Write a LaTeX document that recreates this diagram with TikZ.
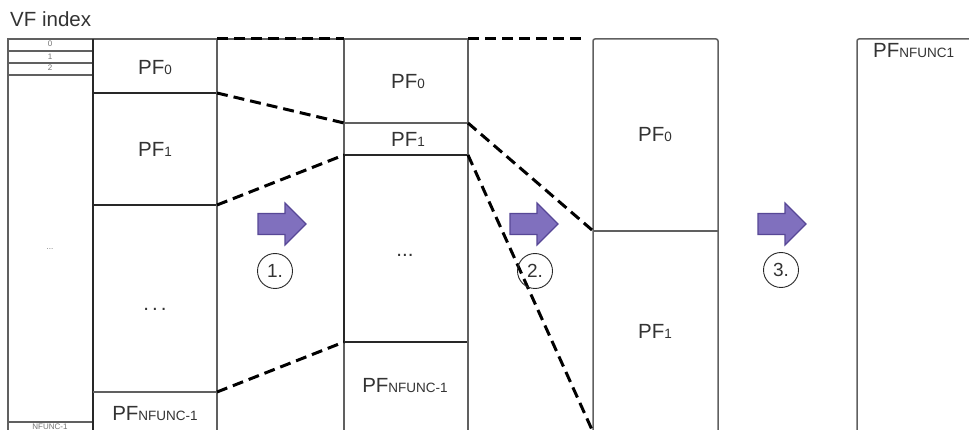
\documentclass[tikz,border=0pt]{standalone}
\usepackage{fontspec}
\setmainfont{Liberation Sans}
\definecolor{framegray}{HTML}{606060}
\definecolor{darkline}{HTML}{282828}
\definecolor{txt}{HTML}{333333}
\definecolor{arrowfill}{HTML}{8070BE}
\definecolor{arrowedge}{HTML}{574796}
\begin{document}
\begin{tikzpicture}[x=1pt,y=-1pt,
  frame/.style={draw=framegray, line width=1.5pt},
  darkframe/.style={draw=darkline, line width=1.8pt},
  link/.style={draw=black, line width=3pt, dash pattern=on 11pt off 6pt},
  lbl/.style={font=\fontsize{20.5}{20.5}\selectfont, text=txt, inner sep=0pt},
  tinylbl/.style={font=\fontsize{8}{8}\selectfont, text=black!55, inner sep=0pt},
  stepnum/.style={circle, draw=darkline, line width=0.9pt, minimum size=35pt, inner sep=0pt, font=\fontsize{19}{19}\selectfont, text=txt},
  purplearrow/.pic={\filldraw[fill=arrowfill, draw=arrowedge, line width=1.2pt]
     (-24,-10.5) -- (3,-10.5) -- (3,-21) -- (24,0) -- (3,21) -- (3,10.5) -- (-24,10.5) -- cycle;}
]
\useasboundingbox (0,0) rectangle (969,430);
\clip (0,0) rectangle (969,430);
\fill[white] (0,0) rectangle (969,430);
\newcommand{\subsz}{\fontsize{13.5}{13.5}\selectfont}

% title
\node[lbl, anchor=base west] (title) at (10,27) {VF index};

% VF index column
\draw[frame] (8,39) rectangle (93,440);
\draw[draw=framegray, line width=1.2pt] (8,51) -- (93,51) (8,63) -- (93,63) (8,75) -- (93,75) (8,422) -- (93,422);
\node[tinylbl] (vf0) at (50,44) {0};
\node[tinylbl] (vf1) at (50,57) {1};
\node[tinylbl] (vf2) at (50,68) {2};
\node[tinylbl] (vfdots) at (50,249) {...};
\node[tinylbl, anchor=north] (vfn) at (50,424) {NFUNC-1};

% column 2
\draw[frame] (93,39) rectangle (217,440);
\draw[darkframe] (93,39) -- (93,440);
\draw[darkframe] (93,93) -- (217,93) (93,205) -- (217,205);
\draw[frame] (93,392) -- (217,392);
\node[lbl] (c2pf0) at (155,68) {PF{\subsz 0}};
\node[lbl] (c2pf1) at (155,149) {PF{\subsz 1}};
\node[lbl, anchor=base] (c2dots) at (155,310) {.\kern3pt.\kern3pt.};
\node[lbl] (c2pfn) at (155,414) {PF{\subsz NFUNC-1}};

% column 3 frame
\draw[frame] (217,39) rectangle (344,440);

% column 4
\draw[frame] (344,39) rectangle (468,440);
\draw[frame] (344,123) -- (468,123);
\draw[darkframe] (468,155) -- (344,155) -- (344,342) -- (468,342);
\node[lbl] (c4pf0) at (408,82) {PF{\subsz 0}};
\node[lbl] (c4pf1) at (408,139) {PF{\subsz 1}};
\node[lbl, anchor=base] (c4dots) at (405,257) {...};
\node[lbl] (c4pfn) at (405,386) {PF{\subsz NFUNC-1}};

% column 5 frame
\draw[frame] (468,39) -- (468,440);

% column 6
\draw[frame, rounded corners=2pt] (593,440) -- (593,39) -- (718,39) -- (718,440);
\draw[frame] (593,231) -- (718,231);
\node[lbl] (c6pf0) at (655,135) {PF{\subsz 0}};
\node[lbl] (c6pf1) at (655,331) {PF{\subsz 1}};

% column 7
\draw[frame, rounded corners=2pt] (857,440) -- (857,39) -- (985,39);
\node[lbl, anchor=base west] (c7pfn) at (873,58) {PF{\subsz NFUNC1}};

% coordinates for links
\coordinate (t2) at (217,39); \coordinate (t3) at (344,39);
\coordinate (t4) at (468,39); \coordinate (t5) at (585,39);
\coordinate (a1) at (217,93);  \coordinate (b1) at (344,123);
\coordinate (a2) at (217,205); \coordinate (b2) at (344,155);
\coordinate (a3) at (217,392); \coordinate (b3) at (344,342);
\coordinate (d1) at (468,123); \coordinate (e1) at (592,230);
\coordinate (d2) at (468,155); \coordinate (e2) at (593,432);

\draw[link] (t2) -- (t3);
\draw[link] (t4) -- (t5);
\draw[link] (a1) -- (b1);
\draw[link] (a2) -- (b2);
\draw[link] (a3) -- (b3);
\draw[link] (d1) -- (e1);
\draw[link] (d2) -- (e2);

% arrows and step numbers
\pic at (282,224) {purplearrow};
\pic at (534,224) {purplearrow};
\pic at (782,224) {purplearrow};
\node[stepnum] (s1) at (275,271) {1.};
\node[stepnum] (s2) at (535,271) {2.};
\node[stepnum] (s3) at (781,270) {3.};
\end{tikzpicture}
\end{document}
